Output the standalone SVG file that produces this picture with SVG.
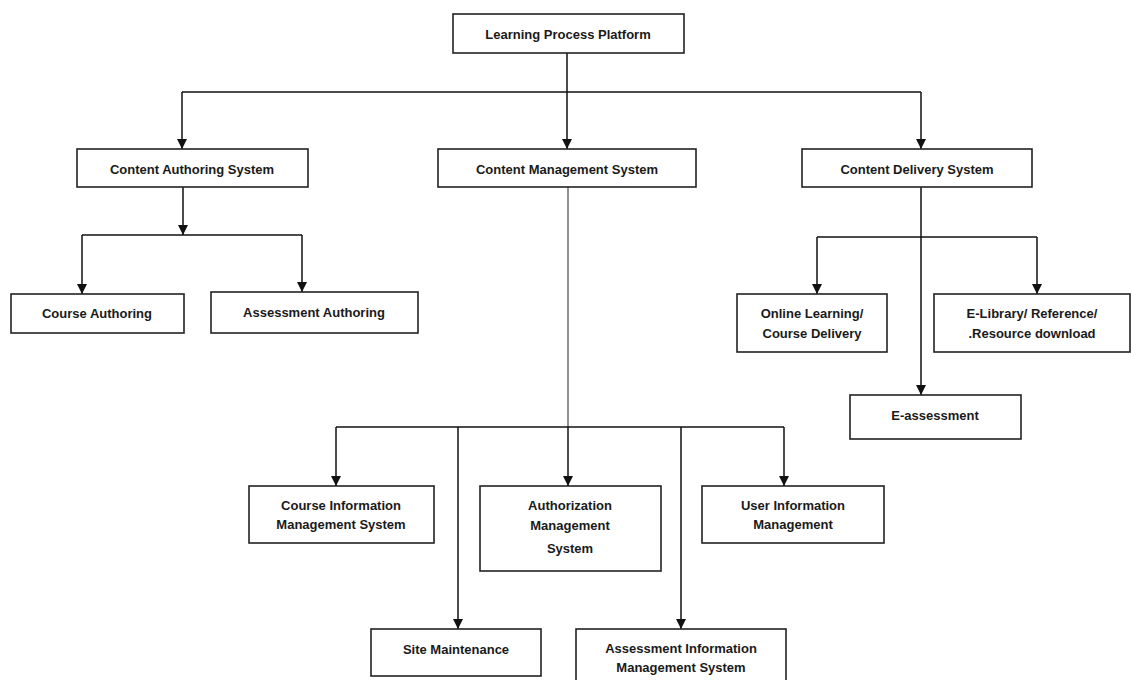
<svg xmlns="http://www.w3.org/2000/svg" width="1131" height="680" viewBox="0 0 1131 680">
<style>
.box{fill:#fff;stroke:#222;stroke-width:1.6}
.t{font-family:"Liberation Sans",Arial,sans-serif;font-weight:bold;font-size:13px;fill:#1a1a1a;text-anchor:middle;dominant-baseline:central}
.c{fill:none;stroke:#111;stroke-width:1.5}
.g{fill:none;stroke:#777;stroke-width:1.6}
</style>
<defs>
<marker id="ah" viewBox="0 0 10 10" refX="10" refY="5" markerWidth="10" markerHeight="10" markerUnits="userSpaceOnUse" orient="auto">
<path d="M0,0 L10,5 L0,10 Z" fill="#111"/>
</marker>
</defs>
<rect width="1131" height="680" fill="#fff"/>
<g id="connectors">
<path class="c" d="M567,53 V92 M182,92 H921"/>
<path class="c" d="M182,92 V149" marker-end="url(#ah)"/>
<path class="c" d="M567,92 V149" marker-end="url(#ah)"/>
<path class="c" d="M921,92 V149" marker-end="url(#ah)"/>
<path class="c" d="M183,187 V235" marker-end="url(#ah)"/>
<path class="c" d="M82,235 H302"/>
<path class="c" d="M82,235 V294" marker-end="url(#ah)"/>
<path class="c" d="M302,235 V292" marker-end="url(#ah)"/>
<path class="g" d="M568,187 V427"/>
<path class="c" d="M568,427 V486" marker-end="url(#ah)"/>
<path class="c" d="M336,427 H784"/>
<path class="c" d="M336,427 V486" marker-end="url(#ah)"/>
<path class="c" d="M458,427 V629" marker-end="url(#ah)"/>
<path class="c" d="M681,427 V629" marker-end="url(#ah)"/>
<path class="c" d="M784,427 V486" marker-end="url(#ah)"/>
<path class="c" d="M921,187 V395" marker-end="url(#ah)"/>
<path class="c" d="M817,237 H1037"/>
<path class="c" d="M817,237 V294" marker-end="url(#ah)"/>
<path class="c" d="M1037,237 V294" marker-end="url(#ah)"/>
</g>
<g id="lpp"><rect class="box" x="453" y="14" width="231" height="39"/><text class="t" x="568" y="34">Learning Process Platform</text></g>
<g id="cas"><rect class="box" x="77" y="149" width="231" height="38"/><text class="t" x="192" y="169">Content Authoring System</text></g>
<g id="cms"><rect class="box" x="438" y="149" width="258" height="38"/><text class="t" x="567" y="169">Content Management System</text></g>
<g id="cds"><rect class="box" x="802" y="149" width="230" height="38"/><text class="t" x="917" y="169">Content Delivery System</text></g>
<g id="ca"><rect class="box" x="11" y="294" width="173" height="39"/><text class="t" x="97" y="313">Course Authoring</text></g>
<g id="aa"><rect class="box" x="211" y="292" width="207" height="41"/><text class="t" x="314" y="312">Assessment Authoring</text></g>
<g id="ol"><rect class="box" x="737" y="294" width="150" height="58"/><text class="t" x="812" y="313">Online Learning/</text><text class="t" x="812" y="333">Course Delivery</text></g>
<g id="el"><rect class="box" x="934" y="294" width="196" height="58"/><text class="t" x="1032" y="313">E-Library/ Reference/</text><text class="t" x="1032" y="333">.Resource download</text></g>
<g id="ea"><rect class="box" x="850" y="395" width="171" height="44"/><text class="t" x="935" y="415">E-assessment</text></g>
<g id="cims"><rect class="box" x="249" y="486" width="185" height="57"/><text class="t" x="341" y="505">Course Information</text><text class="t" x="341" y="524">Management System</text></g>
<g id="ams"><rect class="box" x="480" y="486" width="181" height="85"/><text class="t" x="570" y="505">Authorization</text><text class="t" x="570" y="525">Management</text><text class="t" x="570" y="548">System</text></g>
<g id="uim"><rect class="box" x="702" y="486" width="182" height="57"/><text class="t" x="793" y="505">User Information</text><text class="t" x="793" y="524">Management</text></g>
<g id="sm"><rect class="box" x="371" y="629" width="170" height="47"/><text class="t" x="456" y="649">Site Maintenance</text></g>
<g id="aims"><rect class="box" x="576" y="629" width="210" height="56"/><text class="t" x="681" y="648">Assessment Information</text><text class="t" x="681" y="667">Management System</text></g>
</svg>
